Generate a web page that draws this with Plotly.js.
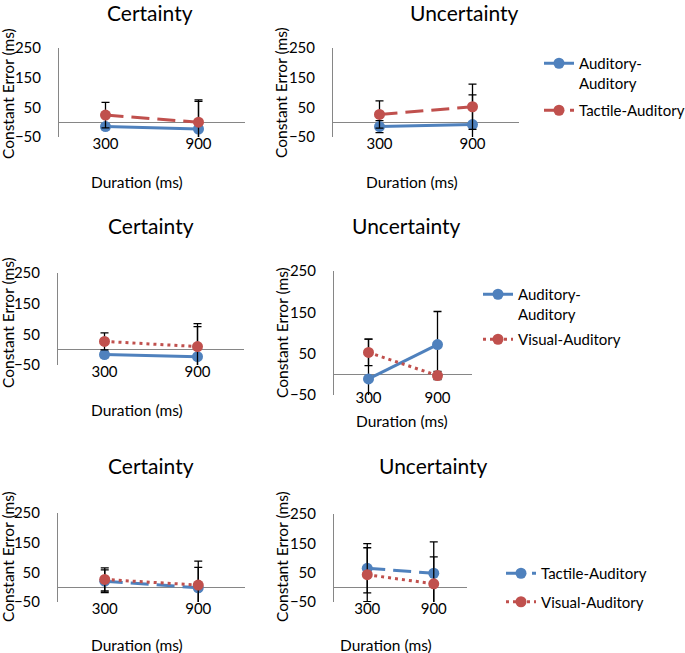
<!DOCTYPE html>
<html>
<head>
<meta charset="utf-8">
<script src="https://cdn.plot.ly/plotly-3.0.1.min.js"></script>
<style>
  html, body { margin: 0; padding: 0; background: #fff; }
  #chart { width: 685px; height: 653px; }
</style>
</head>
<body>
<div id="chart"></div>
<script>
// categories (duration, ms)
const durations = ['300', '900'];

// row 1: auditory vs tactile
const certA_aud = [-15, -23];
const certA_audErr = [10, 93];
const certA_tac = [24, 0];
const certA_tacErr = [43, 75];
const uncA_aud = [-15, -8];
const uncA_audErr = [20, 100];
const uncA_tac = [26, 52];
const uncA_tacErr = [46, 76];

// row 2: auditory vs visual
const certB_aud = [-16, -23];
const certB_audErr = [10, 98];
const certB_vis = [27, 10];
const certB_visErr = [28, 75];
const uncB_aud = [-11, 72];
const uncB_audErr = [96, 80];
const uncB_vis = [53, -3];
const uncB_visErr = [32, 10];

// row 3: tactile vs visual
const certC_tac = [20, -2];
const certC_tacErr = [38, 69];
const certC_vis = [26, 7];
const certC_visErr = [39, 81];
const uncC_tac = [65, 48];
const uncC_tacErr = [84, 107];
const uncC_vis = [43, 12];
const uncC_visErr = [92, 92];

const BLUE = '#4F81BD';
const RED = '#C0504D';
const AXIS = '#868686';
const FONT = 'Lato, "Liberation Sans", sans-serif';
const W = 685, H = 653;

// plot areas in pixels [left, right, top, bottom]
const boxes = [
    [59, 245, 48, 137],
    [333, 519, 48, 137],
    [58, 244, 273, 365],
    [334, 472, 271, 395],
    [58, 245, 513, 602],
    [334, 467, 514, 602]
];

function series(name, y, err, color, dash, axisNo, legend, show) {
    const sfx = axisNo === 1 ? '' : axisNo;
    return {
        x: durations, y: y,
        type: 'scatter',
        mode: 'lines+markers',
        name: name,
        xaxis: 'x' + sfx, yaxis: 'y' + sfx,
        line: { color: color, width: 3, dash: dash },
        marker: { color: color, size: 11 },
        error_y: { type: 'data', array: err, visible: true, color: '#000', thickness: 1.3, width: 4 },
        legend: legend,
        legendgroup: legend + '-' + name,
        showlegend: show,
        cliponaxis: true
    };
}

const DASH = '18px,8px';
const DOT = '3px,4px';

const traces = [
    series('Auditory-<br>Auditory', certA_aud, certA_audErr, BLUE, 'solid', 1, 'legend', false),
    series('Tactile-Auditory', certA_tac, certA_tacErr, RED, DASH, 1, 'legend', false),
    series('Auditory-<br>Auditory', uncA_aud, uncA_audErr, BLUE, 'solid', 2, 'legend', true),
    series('Tactile-Auditory', uncA_tac, uncA_tacErr, RED, DASH, 2, 'legend', true),
    series('Auditory-<br>Auditory', certB_aud, certB_audErr, BLUE, 'solid', 3, 'legend2', false),
    series('Visual-Auditory', certB_vis, certB_visErr, RED, DOT, 3, 'legend2', false),
    series('Auditory-<br>Auditory', uncB_aud, uncB_audErr, BLUE, 'solid', 4, 'legend2', true),
    series('Visual-Auditory', uncB_vis, uncB_visErr, RED, DOT, 4, 'legend2', true),
    series('Tactile-Auditory', certC_tac, certC_tacErr, BLUE, DASH, 5, 'legend3', false),
    series('Visual-Auditory', certC_vis, certC_visErr, RED, DOT, 5, 'legend3', false),
    series('Tactile-Auditory', uncC_tac, uncC_tacErr, BLUE, DASH, 6, 'legend3', true),
    series('Visual-Auditory', uncC_vis, uncC_visErr, RED, DOT, 6, 'legend3', true)
];

const legendFont = { family: FONT, size: 15, color: '#000' };

const layout = {
    width: W, height: H,
    margin: { l: 0, r: 0, t: 0, b: 0, autoexpand: false },
    paper_bgcolor: '#fff',
    plot_bgcolor: '#fff',
    font: { family: FONT, size: 15, color: '#000' },
    annotations: [],
    legend: {
        x: 539 / W, y: 1 - 47 / H, xanchor: 'left', yanchor: 'top',
        valign: 'top', bgcolor: 'rgba(0,0,0,0)', tracegroupgap: 5,
        font: legendFont
    },
    legend2: {
        x: 478 / W, y: 1 - 278 / H, xanchor: 'left', yanchor: 'top',
        valign: 'top', bgcolor: 'rgba(0,0,0,0)', tracegroupgap: 3,
        font: legendFont
    },
    legend3: {
        x: 501 / W, y: 1 - 557 / H, xanchor: 'left', yanchor: 'top',
        valign: 'top', bgcolor: 'rgba(0,0,0,0)', tracegroupgap: 6,
        font: legendFont
    }
};

boxes.forEach((b, i) => {
    const sfx = i === 0 ? '' : (i + 1);
    layout['xaxis' + sfx] = {
        domain: [b[0] / W, b[1] / W],
        anchor: 'y' + sfx,
        type: 'category',
        range: [-0.5, 1.5],
        showline: false, showgrid: false, zeroline: false,
        ticks: '', ticklabelstandoff: i === 3 ? -8 : -4,
        tickfont: { family: FONT, size: 15, color: '#000' },
        fixedrange: true
    };
    layout['yaxis' + sfx] = {
        domain: [1 - b[3] / H, 1 - b[2] / H],
        anchor: 'x' + sfx,
        range: [-50, 250],
        tickvals: [-50, 50, 150, 250],
        showline: true, linecolor: AXIS, linewidth: 1,
        showgrid: false,
        zeroline: true, zerolinecolor: AXIS, zerolinewidth: 1,
        ticks: '', ticklabelstandoff: 14,
        tickfont: { family: FONT, size: 15, color: '#000' },
        fixedrange: true
    };
});

// panel titles, x-axis titles, y-axis titles (pixel positions)
const panelTitles = [
    ['Certainty', 150, 13], ['Uncertainty', 465, 13],
    ['Certainty', 151, 225], ['Uncertainty', 406, 225],
    ['Certainty', 151, 465], ['Uncertainty', 433, 465]
];
const xTitles = [[137, 182], [412, 182], [137, 410], [402, 421], [137, 645], [386, 645]];
const yTitles = [[8, 94], [281, 93], [8, 323], [282, 333], [8, 557], [282, 557]];

panelTitles.forEach(t => layout.annotations.push({
    text: t[0], xref: 'paper', yref: 'paper', x: t[1] / W, y: 1 - t[2] / H,
    xanchor: 'center', yanchor: 'middle', showarrow: false,
    font: { family: FONT, size: 21, color: '#000' }
}));
xTitles.forEach(t => layout.annotations.push({
    text: 'Duration (ms)', xref: 'paper', yref: 'paper', x: t[0] / W, y: 1 - t[1] / H,
    xanchor: 'center', yanchor: 'middle', showarrow: false,
    font: { family: FONT, size: 15.5, color: '#000' }
}));
yTitles.forEach(t => layout.annotations.push({
    text: 'Constant Error (ms)', xref: 'paper', yref: 'paper', x: t[0] / W, y: 1 - t[1] / H,
    xanchor: 'center', yanchor: 'middle', showarrow: false, textangle: -90,
    font: { family: FONT, size: 15.5, color: '#000' }
}));

Plotly.newPlot('chart', traces, layout, { staticPlot: true, displayModeBar: false });
</script>
</body>
</html>
